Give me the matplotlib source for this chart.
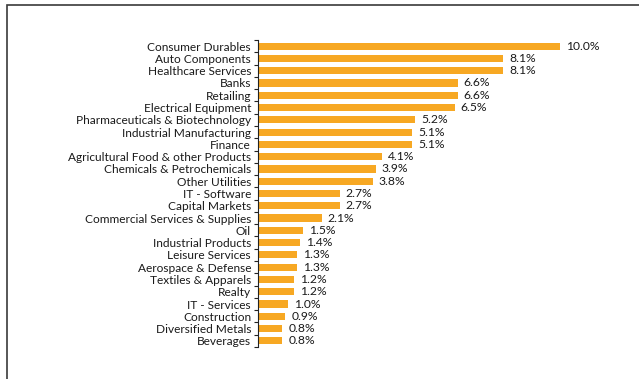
import numpy as np
import matplotlib
matplotlib.use("Agg")
import matplotlib.pyplot as plt
from matplotlib.patches import Rectangle

sectors = ["Consumer Durables", "Auto Components", "Healthcare Services", "Banks",
           "Retailing", "Electrical Equipment", "Pharmaceuticals & Biotechnology",
           "Industrial Manufacturing", "Finance", "Agricultural Food & other Products",
           "Chemicals & Petrochemicals", "Other Utilities", "IT - Software",
           "Capital Markets", "Commercial Services & Supplies", "Oil",
           "Industrial Products", "Leisure Services", "Aerospace & Defense",
           "Textiles & Apparels", "Realty", "IT - Services", "Construction",
           "Diversified Metals", "Beverages"]
weights = [10.0, 8.1, 8.1, 6.6, 6.6, 6.5, 5.2, 5.1, 5.1, 4.1, 3.9, 3.8, 2.7,
           2.7, 2.1, 1.5, 1.4, 1.3, 1.3, 1.2, 1.2, 1.0, 0.9, 0.8, 0.8]

plt.rcParams['font.family'] = ['Lato', 'DejaVu Sans']

fig = plt.figure(figsize=(6.39, 3.79), dpi=100)
W, H = 639, 379

# outer frame, open to the right and bottom
fig.patches.append(Rectangle((7 / W, -0.1), 1.2, 1.1 - 5.5 / H, transform=fig.transFigure,
                             fill=False, edgecolor='#3a3a3a', linewidth=1.2))

ax = fig.add_axes([258 / W, 1 - 347 / H, 1 - 258 / W, 307 / H])
y = np.arange(len(sectors))
ax.barh(y, weights, height=0.58, color='#F7A823')
ax.set_ylim(len(sectors) - 0.5, -0.5)
ax.set_xlim(0, 12.6)

for yi, v in zip(y, weights):
    ax.annotate(f"{v:.1f}%", (v, yi), xytext=(6, 0), textcoords='offset pixels',
                va='center', ha='left', fontsize=8.7, color='#1a1a1a')

ax.set_yticks(y)
ax.set_yticklabels(sectors, fontsize=8.6, color='#1a1a1a')
ax.set_yticks(np.arange(len(sectors) + 1) - 0.5, minor=True)
ax.tick_params(axis='y', which='major', length=0, pad=5)
ax.tick_params(axis='y', which='minor', length=3, width=0.8, color='#222222')
ax.set_xticks([])
for s in ['top', 'right', 'bottom']:
    ax.spines[s].set_visible(False)
ax.spines['left'].set_color('#222222')
ax.spines['left'].set_linewidth(0.8)

fig.savefig("out.png", dpi=100)
